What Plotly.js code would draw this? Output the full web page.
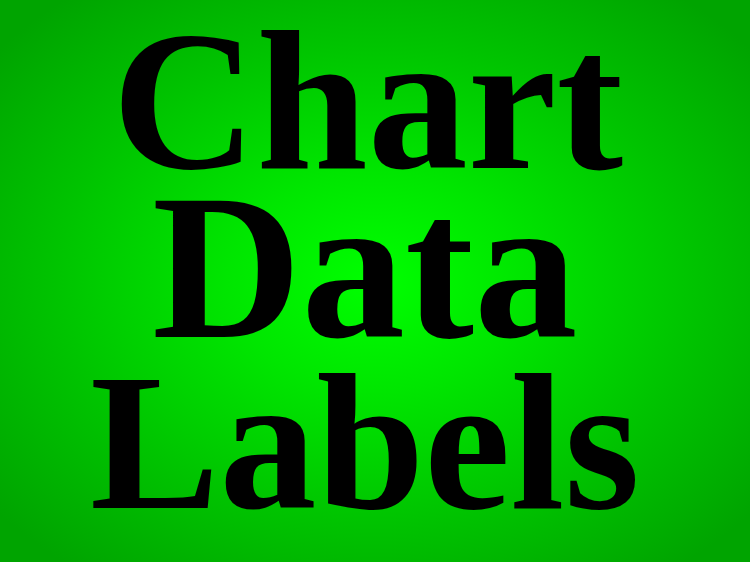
<!DOCTYPE html>
<html>
<head>
<meta charset="utf-8">
<script src="https://cdn.plot.ly/plotly-3.0.1.min.js"></script>
<style>
html,body{margin:0;padding:0;}
#chart{width:750px;height:562px;background:radial-gradient(ellipse 65% 65% at 50% 50%, #00ff00 0%, #00e600 30%, #00c400 65%, #00a400 100%);}
</style>
</head>
<body>
<div id="chart"></div>
<script>
var lines = ["Chart", "Data", "Labels"];
var lineX = [0.49, 0.486, 0.486];
var lineY = [0.822, 0.5237, 0.2123];
var lineSize = [200, 207, 194];

var annotations = lines.map(function (t, i) {
  return {
    text: "<b>" + t + "</b>",
    x: lineX[i], y: lineY[i], xref: "paper", yref: "paper",
    xanchor: "center", yanchor: "middle",
    showarrow: false,
    font: {family: "Liberation Serif", size: lineSize[i], color: "#000000"}
  };
});

Plotly.newPlot("chart", [], {
  width: 750, height: 562,
  margin: {l: 0, r: 0, t: 0, b: 0},
  paper_bgcolor: "rgba(0,0,0,0)",
  plot_bgcolor: "rgba(0,0,0,0)",
  xaxis: {visible: false, range: [0, 1]},
  yaxis: {visible: false, range: [0, 1]},
  showlegend: false,
  annotations: annotations
}, {displayModeBar: false, staticPlot: true});
</script>
</body>
</html>
